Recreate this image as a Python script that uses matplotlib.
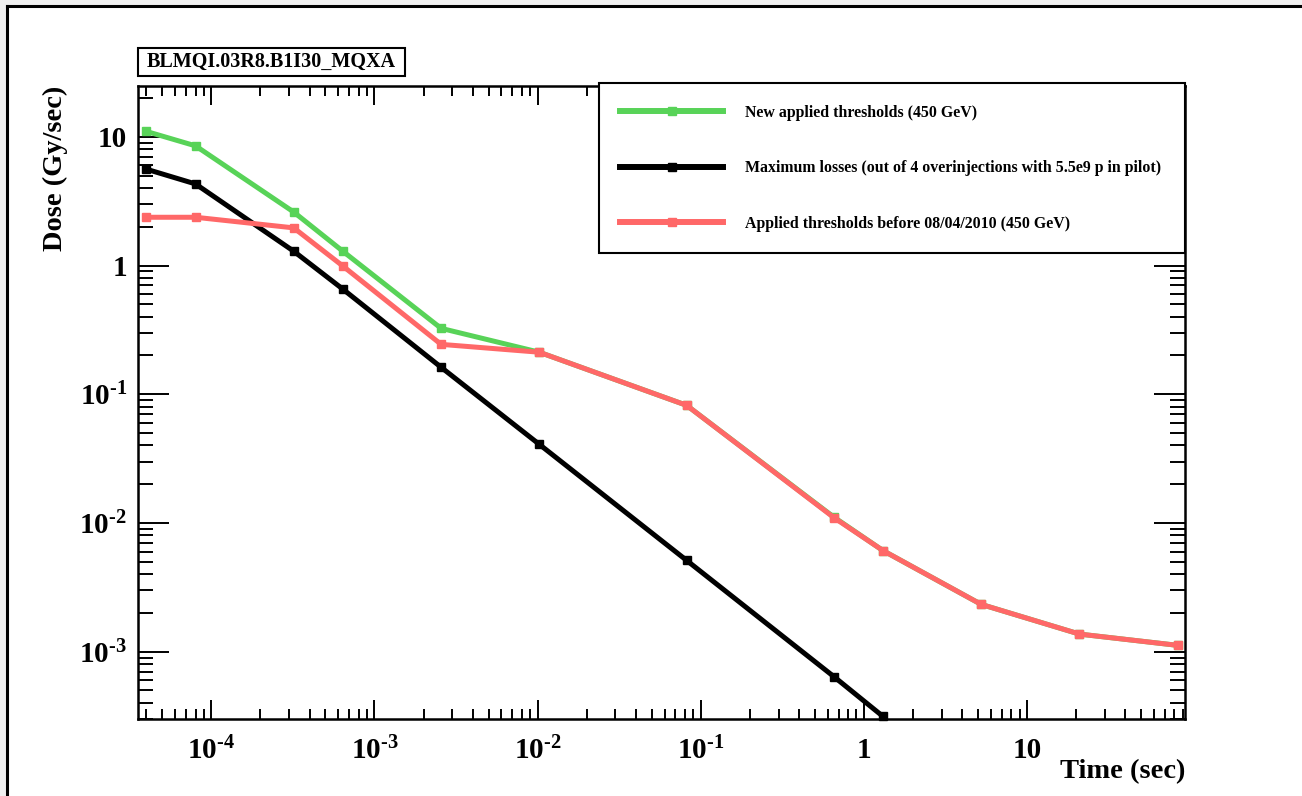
#!/usr/bin/env python3
"""BLM threshold vs. measured losses, ROOT-style log-log plot."""

import matplotlib
matplotlib.use('Agg')
import matplotlib.pyplot as plt
from matplotlib.ticker import LogLocator, FuncFormatter, NullFormatter
from matplotlib.patches import Rectangle
from matplotlib.lines import Line2D
import numpy as np

# integration times of the BLM running sums (s)
times = [4e-5, 8e-5, 3.2e-4, 6.4e-4, 2.56e-3, 1.024e-2,
         8.192e-2, 0.655, 1.31, 5.24, 20.97, 83.89]

new_thr = [11.0, 8.5, 2.6, 1.29, 0.325, 0.212,
           0.082, 0.0111, 0.0061, 0.00233, 0.00137, 0.00112]
old_thr = [2.37, 2.37, 1.96, 0.99, 0.244, 0.212,
           0.082, 0.0110, 0.0061, 0.00233, 0.00137, 0.00112]
max_loss = [5.6, 4.3, 1.29, 0.655, 0.162, 0.0408,
            0.00512, 0.00064, 0.000314]

labels = ['New applied thresholds (450 GeV)',
          'Maximum losses (out of 4 overinjections with 5.5e9 p in pilot)',
          'Applied thresholds before 08/04/2010 (450 GeV)']

GREEN = '#58d358'
RED = '#ff6868'
BLACK = '#000000'

plt.rcParams.update({
    'font.family': 'Liberation Serif',
    'font.weight': 'bold',
    'mathtext.fontset': 'custom',
    'mathtext.rm': 'Liberation Serif:bold',
    'mathtext.bf': 'Liberation Serif:bold',
    'mathtext.it': 'Liberation Serif:bold',
})

W, H = 1302, 796
fig = plt.figure(figsize=(W / 100, H / 100), dpi=100)
fig.patch.set_facecolor('white')

# grey surround + canvas frame (top and left edges visible)
fig.patches.append(Rectangle((0, 1 - 6 / H), 1, 6 / H, transform=fig.transFigure,
                             color='#f0f0f0', zorder=0))
fig.patches.append(Rectangle((0, 0), 7 / W, 1, transform=fig.transFigure,
                             color='#f0f0f0', zorder=0))
fig.lines.append(Line2D([7 / W, 1], [1 - 6 / H, 1 - 6 / H], transform=fig.transFigure,
                        color='black', lw=2.2))
fig.lines.append(Line2D([7 / W, 7 / W], [0, 1 - 6 / H], transform=fig.transFigure,
                        color='black', lw=2.2))

ax = fig.add_axes([138 / W, 1 - 719 / H, (1185 - 138) / W, (719 - 86) / H])

lw, ms = 3.6, 5.2
ax.plot(times, new_thr, '-s', color=GREEN, lw=lw, ms=ms, label=labels[0], zorder=3)
ax.plot(times[:len(max_loss)], max_loss, '-s', color=BLACK, lw=lw, ms=ms,
        label=labels[1], zorder=4, clip_on=False)
ax.plot(times, old_thr, '-s', color=RED, lw=lw, ms=ms, label=labels[2], zorder=5)

ax.set_xscale('log')
ax.set_yscale('log')
ax.set_xlim(3.55e-5, 93)
ax.set_ylim(3.0e-4, 24.8)


def root_fmt(v, _):
    e = int(round(np.log10(v)))
    if e >= 0:
        return str(10 ** e)
    return r'$10^{\text{-}%d}$' % abs(e)


xdec = [1e-4, 1e-3, 1e-2, 1e-1, 1, 10]
ydec = [1e-3, 1e-2, 1e-1, 1, 10]
ax.set_xticks(xdec)
ax.set_yticks(ydec)
for axis in (ax.xaxis, ax.yaxis):
    axis.set_minor_locator(LogLocator(base=10, subs=np.arange(2, 10), numticks=50))
    axis.set_major_formatter(FuncFormatter(root_fmt))
    axis.set_minor_formatter(NullFormatter())

ax.tick_params(which='both', direction='in', top=True, right=True,
               width=1.4, color='black', labelsize=21)
ax.tick_params(axis='x', which='major', length=14, pad=13)
ax.tick_params(axis='x', which='minor', length=7)
ax.tick_params(axis='y', which='major', length=22, pad=8)
ax.tick_params(axis='y', which='minor', length=11)
for s in ax.spines.values():
    s.set_linewidth(1.8)

# axis titles, ROOT style (at the far end of each axis)
fig.text(55.5 / W, 1 - 86 / H, 'Dose (Gy/sec)', rotation=90, ha='center', va='top',
         fontsize=20.5, fontweight='bold')
ax.text(1.0, -(772 - 719) / (719 - 86), 'Time (sec)', transform=ax.transAxes,
        ha='right', va='center', fontsize=20.5, fontweight='bold')

# histogram name box
fig.patches.append(Rectangle((138 / W, 1 - 76 / H), (405 - 138) / W, 28 / H,
                             transform=fig.transFigure, fc='white', ec='black',
                             lw=1.5, zorder=5))
fig.text(271.5 / W, 1 - 62 / H, 'BLMQI.03R8.B1I30_MQXA', ha='center', va='center',
         fontsize=14.5, fontweight='bold', zorder=6)

leg = ax.legend(loc='upper left', bbox_to_anchor=((599 - 138) / 1047, 1.004,
                                                   (1185 - 599) / 1047, 0.0),
                mode='expand', borderaxespad=0, fontsize=11.4, numpoints=1,
                handlelength=6.5, handletextpad=1.4, labelspacing=2.5,
                borderpad=1.35, fancybox=False, framealpha=1, edgecolor='black')
leg.get_frame().set_linewidth(1.5)
for h in leg.legend_handles:
    h.set_linewidth(4.3)

fig.savefig('out.png', dpi=100)
